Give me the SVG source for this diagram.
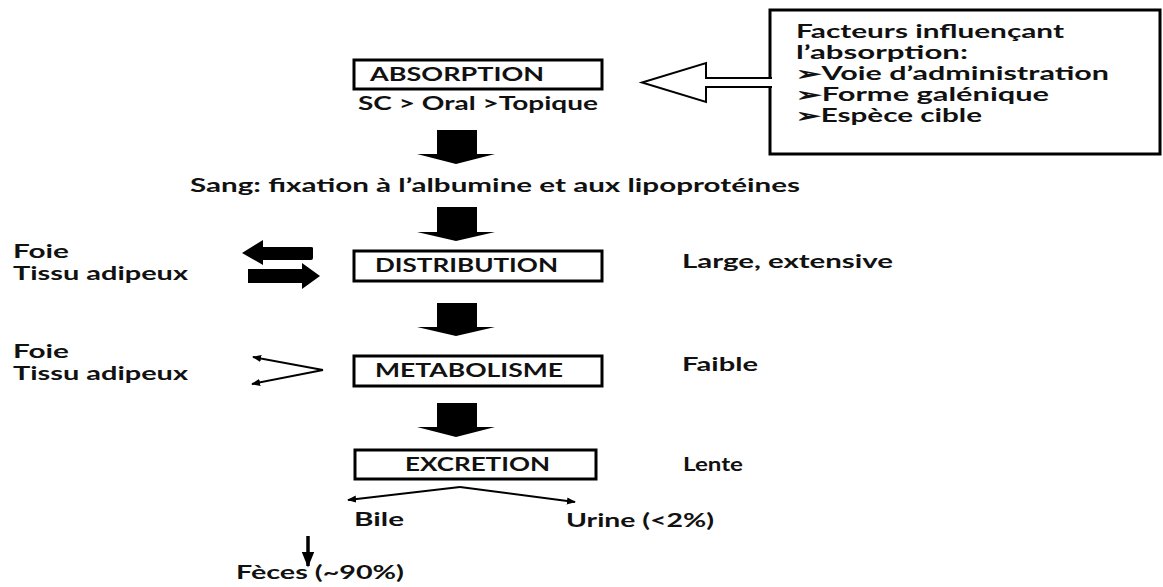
<svg xmlns="http://www.w3.org/2000/svg" width="1163" height="587" viewBox="0 0 1163 587">
<defs>
<style>
text{font-family:Lato,"Open Sans","Liberation Sans",sans-serif;font-weight:700;font-size:18px;fill:#111;}
.box{fill:#fff;stroke:#000;stroke-width:3;}
.fat{fill:#000;stroke:none;}
.thin{fill:none;stroke:#000;stroke-width:2;}
</style>
<marker id="ah" viewBox="0 0 10 8" refX="9" refY="4" markerWidth="4.5" markerHeight="3.6" orient="auto" markerUnits="strokeWidth">
<path d="M0,0 L10,4 L0,8 z" fill="#000"/>
</marker>
</defs>
<rect width="1163" height="587" fill="#fff"/>

<g id="connectors">
<path class="fat" d="M437,130 H477 V154 H495 L456,164 L417,154 H437 Z"/>
<path class="fat" d="M437,207 H477 V232 H495 L456,241 L417,232 H437 Z"/>
<path class="fat" d="M437,303 H477 V327 H495 L456,336 L417,327 H437 Z"/>
<path class="fat" d="M437,403 H477 V427 H495 L456,437 L417,427 H437 Z"/>
<path class="fat" d="M313,248 Q313,247 311,247 H263 V240 L242,253 L263,265 V260 H311 Q313,260 313,258 Z"/>
<path class="fat" d="M248,269 H302 V263 L320,276 L302,289 V283 H248 Z"/>
<line class="thin" x1="323" y1="370" x2="253" y2="357" marker-end="url(#ah)"/>
<line class="thin" x1="323" y1="370" x2="252" y2="384" marker-end="url(#ah)"/>
<line class="thin" x1="460" y1="487" x2="348" y2="500" marker-end="url(#ah)"/>
<line class="thin" x1="460" y1="487" x2="575" y2="502" marker-end="url(#ah)"/>
<line x1="308" y1="536" x2="308" y2="566" stroke="#000" stroke-width="3.5" marker-end="url(#ah)"/>
</g>

<g id="facteurs">
<rect class="box" x="770" y="10" width="390" height="144"/>
<text x="796" y="38" textLength="268" lengthAdjust="spacingAndGlyphs">Facteurs influençant</text>
<text x="796" y="59" textLength="172" lengthAdjust="spacingAndGlyphs">l’absorption:</text>
<text x="796" y="80" textLength="313" lengthAdjust="spacingAndGlyphs">➢Voie d’administration</text>
<text x="796" y="101" textLength="253" lengthAdjust="spacingAndGlyphs">➢Forme galénique</text>
<text x="796" y="122" textLength="186" lengthAdjust="spacingAndGlyphs">➢Espèce cible</text>
</g>

<g id="hollow-arrow">
<path d="M772,78 H706 V63 L642,82.5 L706,102 V87 H772" fill="#fff" stroke="#000" stroke-width="2"/>
</g>

<g id="absorption">
<rect class="box" x="354" y="60" width="248" height="29"/>
<text x="370" y="81" textLength="174" lengthAdjust="spacingAndGlyphs">ABSORPTION</text>
<text x="358" y="110" textLength="240" lengthAdjust="spacingAndGlyphs">SC &gt; Oral &gt;Topique</text>
</g>

<g id="sang">
<text x="190" y="192" textLength="610" lengthAdjust="spacingAndGlyphs">Sang:  fixation à l’albumine et aux lipoprotéines</text>
</g>

<g id="distribution">
<rect class="box" x="354" y="251" width="248" height="30"/>
<text x="375" y="272" textLength="183" lengthAdjust="spacingAndGlyphs">DISTRIBUTION</text>
</g>
<g id="distribution-tissus">
<text x="13" y="258" textLength="56" lengthAdjust="spacingAndGlyphs">Foie</text>
<text x="13" y="280" textLength="175" lengthAdjust="spacingAndGlyphs">Tissu adipeux</text>
</g>
<g id="distribution-note">
<text x="682" y="268" textLength="211" lengthAdjust="spacingAndGlyphs">Large, extensive</text>
</g>

<g id="metabolisme">
<rect class="box" x="354" y="356" width="248" height="30"/>
<text x="375" y="377" textLength="188" lengthAdjust="spacingAndGlyphs">METABOLISME</text>
</g>
<g id="metabolisme-tissus">
<text x="13" y="358" textLength="56" lengthAdjust="spacingAndGlyphs">Foie</text>
<text x="13" y="380" textLength="175" lengthAdjust="spacingAndGlyphs">Tissu adipeux</text>
</g>
<g id="metabolisme-note">
<text x="682" y="371" textLength="76" lengthAdjust="spacingAndGlyphs">Faible</text>
</g>

<g id="excretion">
<rect class="box" x="355" y="450" width="241" height="29"/>
<text x="405" y="471" textLength="145" lengthAdjust="spacingAndGlyphs">EXCRETION</text>
</g>
<g id="excretion-note">
<text x="683" y="471" textLength="60" lengthAdjust="spacingAndGlyphs">Lente</text>
</g>

<g id="bile">
<text x="354" y="526" textLength="50" lengthAdjust="spacingAndGlyphs">Bile</text>
</g>
<g id="urine">
<text x="566" y="527" textLength="148" lengthAdjust="spacingAndGlyphs">Urine (&lt;2%)</text>
</g>
<g id="feces">
<text x="236" y="579" textLength="168" lengthAdjust="spacingAndGlyphs">Fèces (~90%)</text>
</g>
</svg>
